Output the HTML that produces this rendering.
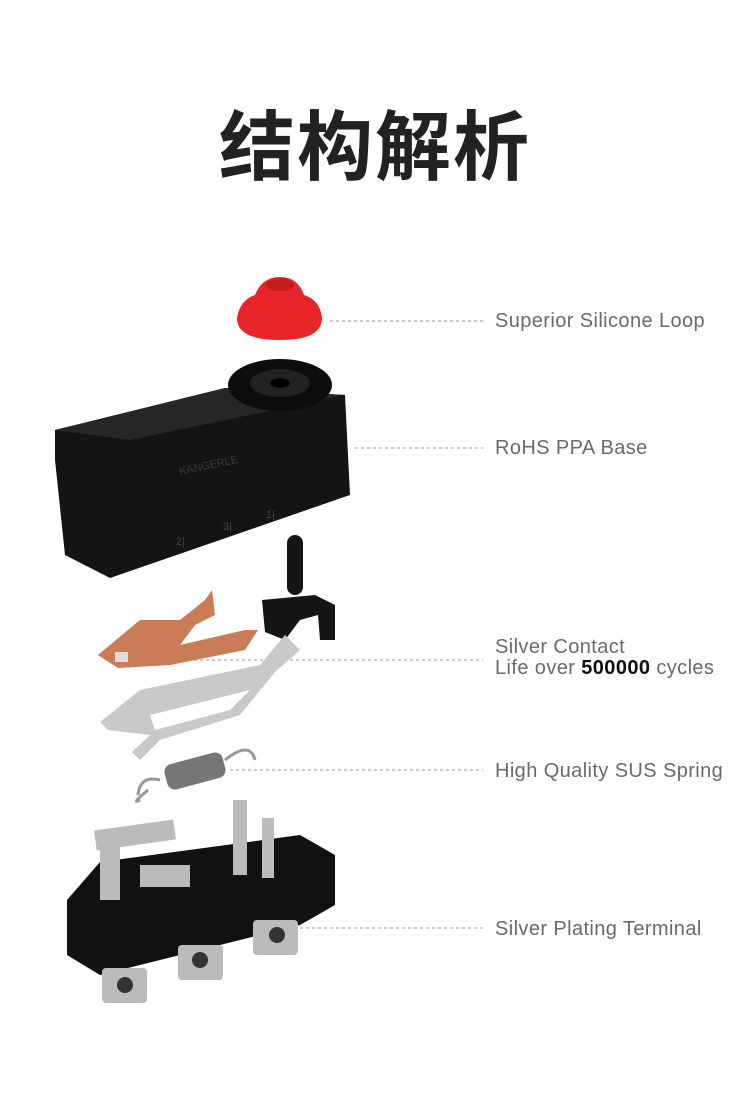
<!DOCTYPE html>
<html><head><meta charset="utf-8"><style>
body{margin:0;width:750px;height:1106px;background:#fff;position:relative;overflow:hidden;font-family:"Liberation Sans",sans-serif}
h1{position:absolute;top:86px;left:0;width:750px;text-align:center;margin:0;font:700 76px "Liberation Sans","Noto Sans CJK SC",sans-serif;color:#222;letter-spacing:2px}
.l{position:absolute;left:495px;font-size:20px;color:#6a6a6a;line-height:21px;letter-spacing:0.4px}
.l b{color:#111;font-weight:700}
</style></head><body>
<h1>结构解析</h1>
<svg width="750" height="1106" style="position:absolute;left:0;top:0">
<g stroke="#999" stroke-dasharray="3,3" stroke-width="1">
<line x1="330" y1="321" x2="483" y2="321"/>
<line x1="355" y1="448" x2="483" y2="448"/>
<line x1="140" y1="660" x2="483" y2="660"/>
<line x1="230" y1="770" x2="483" y2="770"/>
<line x1="300" y1="928" x2="483" y2="928"/>
</g>
<path d="M237,318 Q240,300 255,295 Q262,277 280,277 Q298,277 304,295 Q320,300 322,318 Q322,340 280,340 Q237,340 237,318Z" fill="#e8262a"/>
<ellipse cx="280" cy="285" rx="14" ry="6" fill="#c51a1e"/>
<polygon points="55,430 225,388 345,395 350,495 110,578 65,555 55,460" fill="#141414"/>
<polygon points="55,430 225,388 345,395 130,440" fill="#262626"/>
<ellipse cx="280" cy="385" rx="52" ry="26" fill="#0c0c0c"/>
<ellipse cx="280" cy="383" rx="30" ry="14" fill="#222"/>
<ellipse cx="280" cy="383" rx="10" ry="5" fill="#000"/>
<text x="180" y="475" font-size="11" fill="#3a3a3a" transform="rotate(-12 180 475)">KANGERLE</text>
<text x="176" y="545" font-size="11" fill="#444">2|</text><text x="223" y="530" font-size="11" fill="#444">3|</text><text x="266" y="518" font-size="11" fill="#444">1|</text>
<rect x="287" y="535" width="16" height="60" rx="8" fill="#151515"/>
<polygon points="262,600 315,595 335,605 335,640 320,640 318,615 300,620 285,640 265,632" fill="#151515"/>
<path d="M98,655 L140,620 L180,620 L205,600 L212,590 L215,615 L195,625 L180,645 L245,630 L258,630 L245,650 L170,665 L118,668Z" fill="#c97c55"/>
<rect x="115" y="652" width="13" height="10" fill="#ddd"/>
<path d="M100,722 L140,690 L260,665 L285,635 L300,650 L275,672 L240,715 L160,740 L140,760 L132,752 L150,735 L108,730Z" fill="#c9c9c9"/>
<path d="M150,715 L250,690 L230,710 L155,730Z" fill="#fff"/>
<path d="M148,790 Q130,805 140,800 M160,780 Q140,775 138,795" stroke="#999" stroke-width="3" fill="none"/>
<rect x="165" y="758" width="60" height="26" rx="8" fill="#777" transform="rotate(-15 195 771)"/>
<path d="M225,760 Q250,740 255,760" stroke="#999" stroke-width="3" fill="none"/>
<polygon points="67,900 100,862 300,835 335,855 335,905 300,925 100,975 67,955" fill="#111"/>
<rect x="95" y="825" width="80" height="20" fill="#bbb" transform="rotate(-8 135 835)"/>
<rect x="100" y="840" width="20" height="60" fill="#bbb"/>
<rect x="140" y="865" width="50" height="22" fill="#bbb"/>
<rect x="233" y="800" width="14" height="75" fill="#bbb"/>
<rect x="262" y="818" width="12" height="60" fill="#bbb"/>
<rect x="102" y="968" width="45" height="35" rx="4" fill="#bbb"/><circle cx="125" cy="985" r="8" fill="#333"/>
<rect x="178" y="945" width="45" height="35" rx="4" fill="#bbb"/><circle cx="200" cy="960" r="8" fill="#333"/>
<rect x="253" y="920" width="45" height="35" rx="4" fill="#bbb"/><circle cx="277" cy="935" r="8" fill="#333"/>
</svg>
<div class="l" style="top:311px">Superior Silicone Loop</div>
<div class="l" style="top:438px">RoHS PPA Base</div>
<div class="l" style="top:637px">Silver Contact<br>Life over <b>500000</b> cycles</div>
<div class="l" style="top:761px">High Quality SUS Spring</div>
<div class="l" style="top:919px">Silver Plating Terminal</div>
</body></html>
